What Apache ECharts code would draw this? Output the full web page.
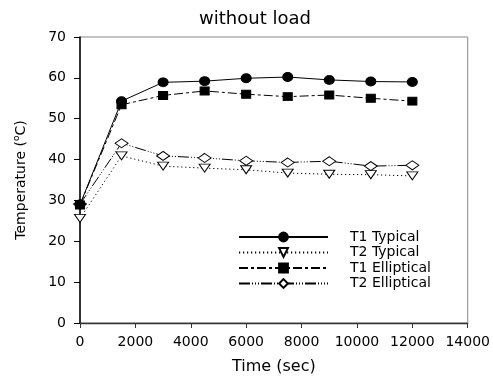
<!DOCTYPE html>
<html>
<head>
<meta charset="utf-8">
<script src="https://cdn.jsdelivr.net/npm/echarts@6/dist/echarts.min.js"></script>
<style>
  html, body { margin: 0; padding: 0; background: #fff; }
  #chart { width: 493px; height: 380px; }
</style>
</head>
<body>
<div id="chart"></div>
<script>
// Measurement times (seconds)
var times = [0, 1500, 3000, 4500, 6000, 7500, 9000, 10500, 12000];

// Temperatures (°C)
var t1Typical    = [29.0, 54.3, 58.9, 59.2, 59.9, 60.2, 59.5, 59.1, 59.0];
var t2Typical    = [25.6, 40.9, 38.4, 37.9, 37.5, 36.7, 36.4, 36.3, 36.0];
var t1Elliptical = [28.9, 53.4, 55.7, 56.8, 56.0, 55.4, 55.8, 55.0, 54.3];
var t2Elliptical = [29.1, 44.0, 40.9, 40.4, 39.7, 39.3, 39.6, 38.4, 38.6];

var seriesNames = ['T1 Typical', 'T2 Typical', 'T1 Elliptical', 'T2 Elliptical'];

var FONT = 'DejaVu Sans';

function pairs(values) {
  return times.map(function (t, i) { return [t, values[i]]; });
}

var filled = { color: '#000', borderColor: '#000', borderWidth: 1 };
var hollow = { color: '#fff', borderColor: '#000', borderWidth: 1 };

var chart = echarts.init(document.getElementById('chart'), null, { renderer: 'canvas' });

chart.setOption({
  backgroundColor: '#fff',
  animation: false,
  title: {
    text: 'without load',
    left: 250,
    top: 5,
    textAlign: 'center',
    textStyle: { fontFamily: FONT, fontSize: 18, fontWeight: 'normal', color: '#000' }
  },
  grid: {
    left: 80, right: 24, top: 37, bottom: 57,
    show: true, borderColor: '#888', borderWidth: 1, backgroundColor: 'transparent'
  },
  legend: {
    data: seriesNames,
    orient: 'vertical',
    left: 233,
    top: 225,
    itemWidth: 89,
    itemHeight: 11,
    itemGap: 1.5,
    textStyle: { fontFamily: FONT, fontSize: 14, color: '#000', padding: [0, 0, 0, 17], lineHeight: 14 }
  },
  xAxis: {
    type: 'value',
    min: 0, max: 14000, interval: 2000,
    name: 'Time (sec)',
    nameLocation: 'middle',
    nameGap: 36,
    nameTextStyle: { fontFamily: FONT, fontSize: 16, color: '#000' },
    axisLine: { show: true, lineStyle: { color: '#333', width: 1.3 } },
    axisTick: { show: true, inside: false, length: 5, lineStyle: { color: '#333', width: 1 } },
    axisLabel: {
      margin: 12, fontFamily: FONT, fontSize: 14, color: '#000',
      formatter: function (v) { return String(v); }
    },
    splitLine: { show: false }
  },
  yAxis: {
    type: 'value',
    min: 0, max: 70, interval: 10,
    name: 'Temperature ({sup|o}C)',
    nameLocation: 'middle',
    nameGap: 50,
    nameRotate: 90,
    nameTextStyle: {
      fontFamily: FONT, fontSize: 14, color: '#000', lineHeight: 18,
      rich: { sup: { fontFamily: FONT, fontSize: 9, color: '#000', verticalAlign: 'top', lineHeight: 18 } }
    },
    axisLine: { show: true, lineStyle: { color: '#000', width: 1.5 } },
    axisTick: { show: true, inside: false, length: 6, lineStyle: { color: '#000', width: 1 } },
    axisLabel: { margin: 14, fontFamily: FONT, fontSize: 14, color: '#000' },
    splitLine: { show: false }
  },
  series: [
    {
      name: seriesNames[0], type: 'line', data: pairs(t1Typical),
      symbol: 'circle', symbolSize: [10, 9],
      lineStyle: { color: '#000', width: 1, type: 'solid' },
      itemStyle: filled, z: 4
    },
    {
      name: seriesNames[1], type: 'line', data: pairs(t2Typical),
      symbol: 'triangle', symbolRotate: 180, symbolSize: [11, 8],
      lineStyle: { color: '#000', width: 1, type: [1.2, 2.8] },
      itemStyle: hollow, z: 3
    },
    {
      name: seriesNames[2], type: 'line', data: pairs(t1Elliptical),
      symbol: 'rect', symbolSize: [9, 8],
      lineStyle: { color: '#000', width: 1, type: [9, 3, 3, 3] },
      itemStyle: filled, z: 3
    },
    {
      name: seriesNames[3], type: 'line', data: pairs(t2Elliptical),
      symbol: 'diamond', symbolSize: [13, 9],
      lineStyle: { color: '#000', width: 1, type: [11, 2, 1, 2, 1, 2, 1, 2] },
      itemStyle: hollow, z: 3
    }
  ]
});
</script>
</body>
</html>
